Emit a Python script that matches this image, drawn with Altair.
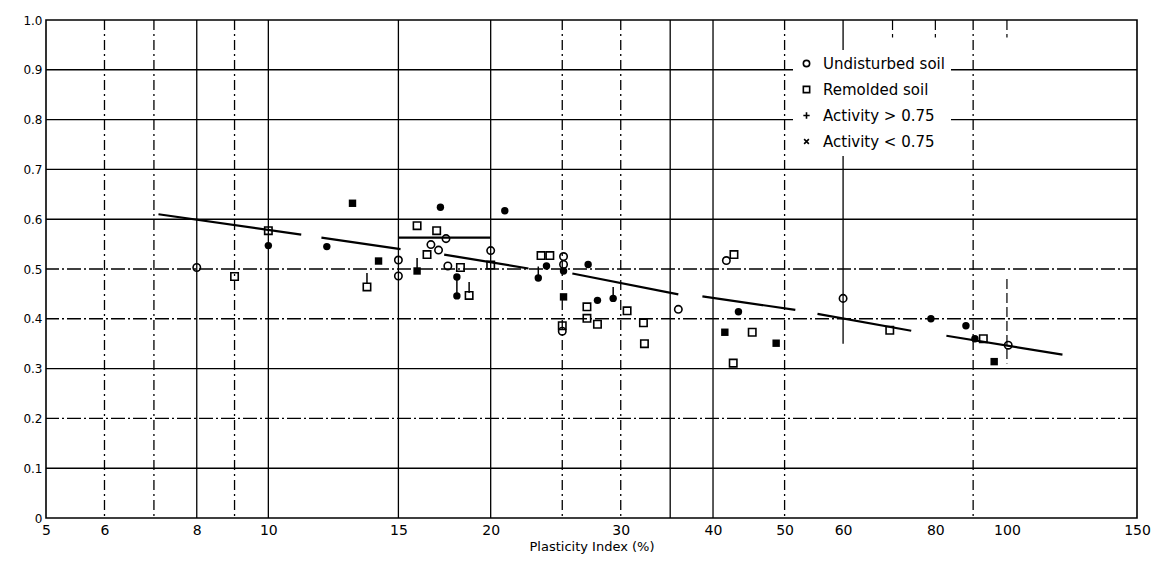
import altair as alt
import pandas as pd

# ---------------- data ----------------
# Undisturbed soil (open circles)
und_pi = [8, 15, 15, 16.6, 17.0, 17.4, 17.5, 20, 25.1, 25.1, 25, 35.9, 41.7, 60, 100.4]
und_v = [0.503, 0.518, 0.486, 0.549, 0.538, 0.561, 0.506, 0.537, 0.525, 0.509, 0.375,
         0.419, 0.517, 0.441, 0.347]
# Remolded soil (open squares)
rem_pi = [10, 9, 15.9, 16.9, 16.4, 13.6, 18.2, 18.7, 20, 23.4, 24.05, 25, 27, 27, 27.9,
          30.6, 32.2, 32.3, 42.7, 45.2, 42.6, 69.4, 92.9]
rem_v = [0.577, 0.485, 0.587, 0.577, 0.529, 0.464, 0.503, 0.447, 0.508, 0.527, 0.527,
         0.386, 0.424, 0.401, 0.389, 0.416, 0.392, 0.350, 0.529, 0.373, 0.311, 0.377, 0.360]
# dark (filled) circles
fc_pi = [10, 12, 17.1, 20.9, 18.0, 18.0, 23.8, 23.2, 25.1, 27.1, 27.9, 29.3, 43.3, 78.9, 88, 90.5]
fc_v = [0.547, 0.545, 0.624, 0.617, 0.484, 0.446, 0.506, 0.482, 0.496, 0.509, 0.437,
        0.441, 0.414, 0.400, 0.386, 0.360]
# dark (filled) squares
fs_pi = [13, 14.1, 15.9, 25.1, 41.5, 48.7, 96.1]
fs_v = [0.632, 0.516, 0.496, 0.444, 0.373, 0.351, 0.314]

# short vertical "activity" strokes above some symbols
tick_pi = [13.6, 15.9, 18.0, 18.7, 23.2, 29.3]
tick_top = [0.492, 0.522, 0.484, 0.474, 0.505, 0.464]
tick_bot = [0.470, 0.500, 0.446, 0.452, 0.484, 0.446]

# trend line pieces (segment id, PI, value)
seg_id = [1, 1, 2, 2, 3, 3, 4, 4, 5, 5, 6, 6, 7, 7, 8, 8]
seg_pi = [7.1, 11.08, 11.8, 15.1, 17.3, 22.5, 25.8, 35.9, 38.7, 51.7, 55.4, 74.2, 82.8, 118.9, 15, 20]
seg_v = [0.610, 0.569, 0.563, 0.540, 0.529, 0.501, 0.491, 0.449, 0.445, 0.418, 0.410, 0.376,
         0.366, 0.328, 0.563, 0.563]

# graph-paper lines
h_solid = [0.1, 0.3, 0.6, 0.7, 0.8, 0.9]
h_dashed = [0.2, 0.4, 0.5]
v_solid = [8, 10, 15, 20, 35, 40]
v_dashed = [6, 7, 9, 25, 30, 50, 90]
ps_pi = [60]
ps_top = [1.0]
ps_bot = [0.35]
pd_pi = [100, 70, 80, 100]
pd_top = [0.48, 1.0, 1.0, 1.0]
pd_bot = [0.31, 0.965, 0.965, 0.965]

x_ticks = [5, 6, 8, 10, 15, 20, 30, 40, 50, 60, 80, 100, 150]
y_ticks = [0, 0.1, 0.2, 0.3, 0.4, 0.5, 0.6, 0.7, 0.8, 0.9, 1.0]
legend_labels = ["Undisturbed soil", "Remolded soil", "Activity > 0.75", "Activity < 0.75"]

# ---------------- tables ----------------
open_df = pd.DataFrame({
    "pi": und_pi + rem_pi,
    "v": und_v + rem_v,
    "soil": [legend_labels[0]] * len(und_pi) + [legend_labels[1]] * len(rem_pi),
})
fc_df = pd.DataFrame({"pi": fc_pi, "v": fc_v})
fs_df = pd.DataFrame({"pi": fs_pi, "v": fs_v})
tick_df = pd.DataFrame({"pi": tick_pi, "v": tick_top, "v2": tick_bot})
seg_df = pd.DataFrame({"seg": seg_id, "pi": seg_pi, "v": seg_v})
hs_df = pd.DataFrame({"v": h_solid})
hd_df = pd.DataFrame({"v": h_dashed})
vs_df = pd.DataFrame({"pi": v_solid})
vd_df = pd.DataFrame({"pi": v_dashed})
ps_df = pd.DataFrame({"pi": ps_pi, "v": ps_top, "v2": ps_bot})
pdd_df = pd.DataFrame({"pi": pd_pi, "v": pd_top, "v2": pd_bot})

FONT = "DejaVu Sans"
xscale = alt.Scale(type="log", domain=[5, 150], nice=False)
yscale = alt.Scale(domain=[0, 1], nice=False)
xaxis = alt.Axis(values=x_ticks, format="d", grid=False, ticks=False, domain=False,
                 labelPadding=5, labelFontSize=14, labelFont=FONT, labelColor="black",
                 labelFlush=False, title="Plasticity Index (%)", titleFont=FONT,
                 titleFontSize=13, titleFontWeight="normal", titleColor="black",
                 titleY=22, titleBaseline="top")
yaxis = alt.Axis(values=y_ticks, grid=False, ticks=False, domain=False,
                 labelExpr="datum.value == 0 ? '0' : format(datum.value, '.1f')",
                 labelFontSize=12, labelFont=FONT, labelColor="black", labelPadding=4,
                 title=None)

X = lambda: alt.X("pi:Q", scale=xscale, axis=xaxis)
Y = lambda: alt.Y("v:Q", scale=yscale, axis=yaxis)

grid_h_solid = alt.Chart(hs_df).mark_rule(color="black", strokeWidth=1.4).encode(y=Y())
grid_h_dash = alt.Chart(hd_df).mark_rule(color="black", strokeWidth=1.4,
                                           strokeDash=[14, 3, 2, 3]).encode(y=Y())
grid_v_solid = alt.Chart(vs_df).mark_rule(color="black", strokeWidth=1.3).encode(x=X())
grid_v_dash = alt.Chart(vd_df).mark_rule(color="black", strokeWidth=1.3,
                                           strokeDash=[10, 4, 2, 4]).encode(x=X())
grid_part_s = alt.Chart(ps_df).mark_rule(color="black", strokeWidth=1.3).encode(
    x=X(), y=Y(), y2="v2:Q")
grid_part_d = alt.Chart(pdd_df).mark_rule(color="black", strokeWidth=1.2,
                                            strokeDash=[10, 4]).encode(
    x=X(), y=Y(), y2="v2:Q")

trend = alt.Chart(seg_df).mark_line(color="black", strokeWidth=2.2).encode(
    x=X(), y=Y(), detail="seg:N")

ticks = alt.Chart(tick_df).mark_rule(color="black", strokeWidth=1.5).encode(
    x=X(), y=Y(), y2="v2:Q")

plus_path = "M-1,0L1,0M0,-1L0,1"
x_path = "M-0.75,-0.75L0.75,0.75M-0.75,0.75L0.75,-0.75"

open_pts = alt.Chart(open_df).mark_point(filled=False, color="black", size=55,
                                          strokeWidth=1.6, opacity=1).encode(
    x=X(), y=Y(),
    shape=alt.Shape("soil:N",
                    scale=alt.Scale(domain=legend_labels,
                                    range=["circle", "square", plus_path, x_path]),
                    legend=alt.Legend(title=None, orient="none", legendX=747, legendY=30,
                                      fillColor="white", padding=6, rowPadding=10,
                                      labelFont=FONT, labelFontSize=15, labelColor="black",
                                      labelOffset=9, symbolSize=40, symbolStrokeWidth=1.6,
                                      symbolStrokeColor="black", symbolType="circle")),
)

fc_pts = alt.Chart(fc_df).mark_point(filled=True, color="black", size=55, opacity=1).encode(
    x=X(), y=Y(), shape=alt.value("circle"))
fs_pts = alt.Chart(fs_df).mark_point(filled=True, color="black", size=55, opacity=1).encode(
    x=X(), y=Y(), shape=alt.value("square"))

chart = alt.layer(
    grid_h_solid, grid_h_dash, grid_v_solid, grid_v_dash, grid_part_s, grid_part_d,
    trend, ticks, open_pts, fc_pts, fs_pts,
).properties(
    width=1091, height=498,
    autosize=alt.AutoSizeParams(type="none"),
    padding={"left": 38, "top": 12, "right": 16, "bottom": 37},
    background="white",
).configure_view(stroke="black", strokeWidth=1.6)

chart.save("out.html", embed_options={"renderer": "svg", "actions": False})
